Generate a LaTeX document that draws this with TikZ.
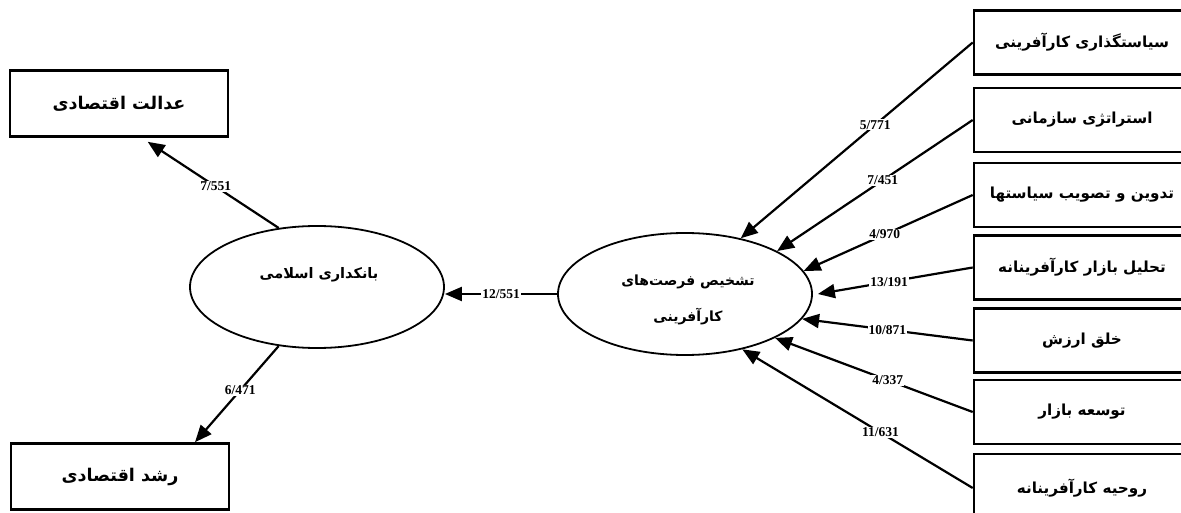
\documentclass[tikz,border=0pt]{standalone}
\usepackage{fontspec}
\setmainfont{Liberation Serif}
\newfontfamily\fa[Script=Arabic]{DejaVu Sans}
\TeXXeTstate=1
\usetikzlibrary{arrows.meta,shapes.geometric,calc}
\begin{document}
\begin{tikzpicture}[x=1pt,y=-1pt,
  lbox/.style={draw,line width=2.6pt,minimum width=218pt,minimum height=66pt,inner sep=0pt,font=\fa\bfseries\fontsize{17.5}{20}\selectfont},
  rbox/.style={draw,line width=2.6pt,minimum width=216pt,minimum height=64pt,inner sep=0pt,font=\fa\bfseries\fontsize{15.2}{18}\selectfont},
  ell/.style={draw,ellipse,line width=1.8pt,minimum width=254pt,minimum height=122pt,inner sep=0pt},
  etext/.style={inner sep=0pt,font=\fa\bfseries\fontsize{14.5}{17}\selectfont},
  conn/.style={line width=2.2pt,-{Triangle[length=17pt,width=14pt]}},
  lab/.style={fill=white,inner sep=1pt,font=\bfseries\fontsize{13.5}{15}\selectfont}
]
\useasboundingbox (0,0) rectangle (1181,513);
% left boxes
\node[lbox] (A) at (119,103.5) {\beginR عدالت اقتصادی\endR};
\node[lbox] (B) at (120,476.5) {\beginR رشد اقتصادی\endR};
% ellipses
\node[ell] (L) at (317,287) {};
\node[ell] (R) at (685,294) {};
\node[etext] (Lt) at (319,275) {\beginR بانکداری اسلامی\endR};
\node[etext,font=\fa\bfseries\fontsize{14}{17}\selectfont] (Rt1) at (688,282) {\beginR تشخیص فرصت‌های\endR};
\node[etext,font=\fa\bfseries\fontsize{14}{17}\selectfont] (Rt2) at (688,317) {\beginR کارآفرینی\endR};
% right boxes
\node[rbox] (r1) at (1082,42.5) {\beginR سیاستگذاری کارآفرینی\endR};
\node[rbox] (r2) at (1082,120) {\beginR استراتژی سازمانی\endR};
\node[rbox] (r3) at (1082,195) {\beginR تدوین و تصویب سیاستها\endR};
\node[rbox] (r4) at (1082,267.5) {\beginR تحلیل بازار کارآفرینانه\endR};
\node[rbox] (r5) at (1082,340.5) {\beginR خلق ارزش\endR};
\node[rbox] (r6) at (1082,412) {\beginR توسعه بازار\endR};
\node[rbox,minimum height=68pt] (r7) at (1082,488) {\beginR روحیه کارآفرینانه\endR};
% connector end points on the left boxes
\coordinate (tA) at ($(A.south west)!0.63!(A.south east)+(0,4)$);
\coordinate (tB) at ($(B.north west)!0.84!(B.north east)$);
% connectors
\draw[conn] (R.west) -- (R.west -| L.east) node[midway,lab] {12/551};
\draw[conn] (L.123.5) -- (tA) node[pos=0.48,lab] {7/551};
\draw[conn] (L.237.4) -- (tB) node[pos=0.46,lab] {6/471};
\draw[conn] (r1.west) -- (R.45.5) node[pos=0.42,lab] {5/771};
\draw[conn] (r2.west) -- (R.25) node[pos=0.46,lab] {7/451};
\draw[conn] (r3.west) -- (R.11.8) node[pos=0.52,lab] {4/970};
\draw[conn] (r4.west) -- ($(R.east)+(5,0)$) node[pos=0.54,lab] {13/191};
\draw[conn] (r5.west) -- (R.-12) node[pos=0.5,lab] {10/871};
\draw[conn] (r6.west) -- (R.-26.6) node[pos=0.43,lab] {4/337};
\draw[conn] (r7.west) -- (R.-44.5) node[pos=0.4,lab] {11/631};
\end{tikzpicture}
\end{document}
